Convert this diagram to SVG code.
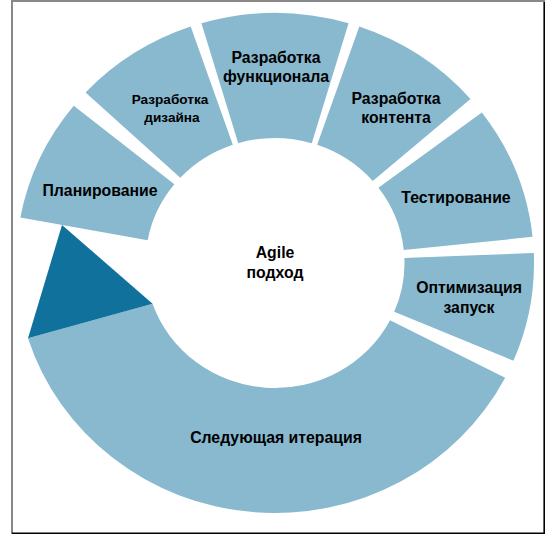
<svg xmlns="http://www.w3.org/2000/svg" width="546" height="534" viewBox="0 0 546 534">
<style>
.seg{fill:#88b9cf;}
.ptr{fill:#10729c;}
.lbl{font-family:"Liberation Sans",Arial,sans-serif;font-weight:bold;font-size:15.8px;fill:#000;text-anchor:middle;}
.sm{font-size:13.6px;}
</style>
<rect x="0" y="0" width="546" height="534" fill="#fff"/>
<g id="frame">
<line x1="12" y1="1" x2="545" y2="1" stroke="#888" stroke-width="2"/>
<line x1="12" y1="0" x2="12" y2="534" stroke="#888" stroke-width="2"/>
<line x1="544.2" y1="2" x2="544.2" y2="534" stroke="#000" stroke-width="1.6"/>
<line x1="12" y1="533.2" x2="545" y2="533.2" stroke="#000" stroke-width="1.6"/>
</g>
<g id="ring" transform="translate(275,263) scale(1.036,1)">
<g id="n-plan"><path class="seg" d="M -245.81 -45.56 A 250 250 0 0 1 -194.29 -157.33 L -97.14 -78.67 A 125 125 0 0 0 -122.91 -22.78 Z"/></g>
<g id="n-design"><path class="seg" d="M -182.84 -170.50 A 250 250 0 0 1 -81.39 -236.38 L -40.70 -118.19 A 125 125 0 0 0 -91.42 -85.25 Z"/></g>
<g id="n-func"><path class="seg" d="M -71.00 -239.70 A 250 250 0 0 1 71.00 -239.70 L 35.50 -119.85 A 125 125 0 0 0 -35.50 -119.85 Z"/></g>
<g id="n-content"><path class="seg" d="M 81.39 -236.38 A 250 250 0 0 1 188.68 -164.02 L 94.34 -82.01 A 125 125 0 0 0 40.70 -118.19 Z"/></g>
<g id="n-test"><path class="seg" d="M 199.66 -150.45 A 250 250 0 0 1 248.63 -26.13 L 124.32 -13.07 A 125 125 0 0 0 99.83 -75.23 Z"/></g>
<g id="n-opt"><path class="seg" d="M 249.80 -10.03 A 250 250 0 0 1 230.13 97.68 L 115.06 48.84 A 125 125 0 0 0 124.90 -5.02 Z"/></g>
<g id="n-next"><path class="seg" d="M 222.16 114.66 A 250 250 0 0 1 -238.43 75.18 L -118.19 40.70 A 125 125 0 0 0 111.08 57.33 Z"/></g>
</g>
<g id="connectors">
<polygon class="ptr" points="62,225 28,338.2 152.6,303.7"/>
</g>
<g id="labels">
<text class="lbl" x="100" y="196">Планирование</text>
<text class="lbl sm" x="170" y="104">Разработка</text>
<text class="lbl sm" x="172" y="122">дизайна</text>
<text class="lbl" x="276" y="63">Разработка</text>
<text class="lbl" x="276" y="82">функционала</text>
<text class="lbl" x="396" y="104">Разработка</text>
<text class="lbl" x="396" y="123">контента</text>
<text class="lbl" x="456" y="203">Тестирование</text>
<text class="lbl" x="469" y="293">Оптимизация</text>
<text class="lbl" x="469" y="313">запуск</text>
<text class="lbl" x="275" y="258">Agile</text>
<text class="lbl" x="275" y="278">подход</text>
<text class="lbl" x="276" y="443">Следующая итерация</text>
</g>
</svg>
